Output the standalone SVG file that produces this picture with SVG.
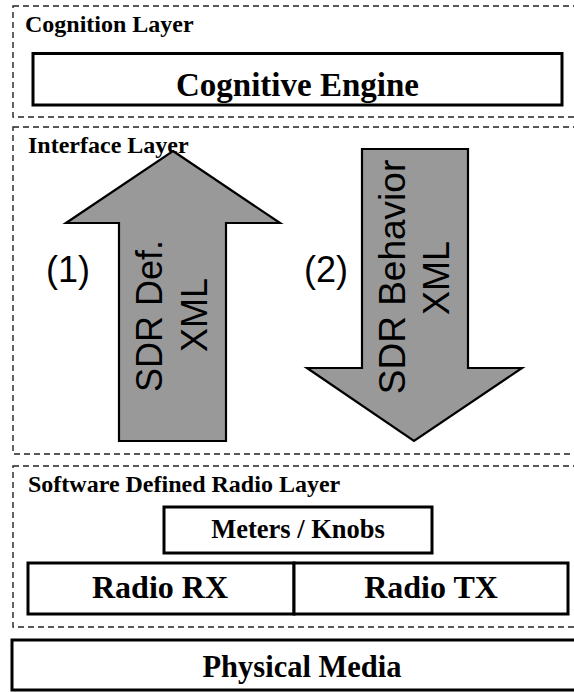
<svg xmlns="http://www.w3.org/2000/svg" width="574" height="692" viewBox="0 0 574 692">
<style>
.layer{fill:none;stroke:#222;stroke-width:1.4;stroke-dasharray:6 4}
.box{fill:#fff;stroke:#000;stroke-width:3}
.arrow{fill:#999;stroke:#000;stroke-width:2.2;stroke-linejoin:miter}
.lbl{font-family:"Liberation Serif","Times New Roman",serif;font-weight:bold;fill:#000}
.sans{font-family:"Liberation Sans",Arial,sans-serif;fill:#000}
</style>
<rect width="574" height="692" fill="#fff"/>
<g id="cognition-layer">
<rect class="layer" x="13" y="6" width="580" height="111"/>
<text class="lbl" x="25" y="32" font-size="24">Cognition Layer</text>
</g>
<g id="cognitive-engine">
<rect class="box" x="33" y="53.5" width="529" height="51.5"/>
<text class="lbl" x="297.5" y="96" font-size="33" text-anchor="middle">Cognitive Engine</text>
</g>
<g id="interface-layer">
<rect class="layer" x="13" y="127" width="580" height="327"/>
<text class="lbl" x="28" y="153" font-size="24">Interface Layer</text>
</g>
<g id="sdr-layer">
<rect class="layer" x="13" y="466" width="580" height="161"/>
<text class="lbl" x="28" y="492" font-size="24">Software Defined Radio Layer</text>
</g>
<g id="meters-knobs">
<rect class="box" x="164" y="507" width="268" height="46" stroke-width="2.6"/>
<text class="lbl" x="298" y="538" font-size="26.5" text-anchor="middle">Meters / Knobs</text>
</g>
<g id="radio-rx">
<rect class="box" x="28" y="563" width="266" height="51" stroke-width="2.6"/>
<text class="lbl" x="160" y="598" font-size="32" text-anchor="middle">Radio RX</text>
</g>
<g id="radio-tx">
<rect class="box" x="294" y="563" width="274" height="51" stroke-width="2.6"/>
<text class="lbl" x="431" y="598" font-size="32" text-anchor="middle">Radio TX</text>
</g>
<g id="physical-media">
<rect class="box" x="12" y="640" width="590" height="50"/>
<text class="lbl" x="302" y="677" font-size="30.5" text-anchor="middle">Physical Media</text>
</g>
<g id="connectors">
<g id="arrow-up">
<polygon class="arrow" points="173,151 280,223 226,223 226,441 119,441 119,223 66,223"/>
<text class="sans" font-size="36" text-anchor="middle" transform="translate(162,316) rotate(-90)">SDR Def.</text>
<text class="sans" font-size="36" text-anchor="middle" transform="translate(207,315) rotate(-90)">XML</text>
<text class="sans" x="68" y="282" font-size="36" text-anchor="middle">(1)</text>
</g>
<g id="arrow-down">
<polygon class="arrow" points="362,149 468,149 468,368 522,368 414,441 307,368 362,368"/>
<text class="sans" font-size="37" text-anchor="middle" transform="translate(405,277) rotate(-90)">SDR Behavior</text>
<text class="sans" font-size="36" text-anchor="middle" transform="translate(449,278) rotate(-90)">XML</text>
<text class="sans" x="326" y="282" font-size="36" text-anchor="middle">(2)</text>
</g>
</g>
</svg>
